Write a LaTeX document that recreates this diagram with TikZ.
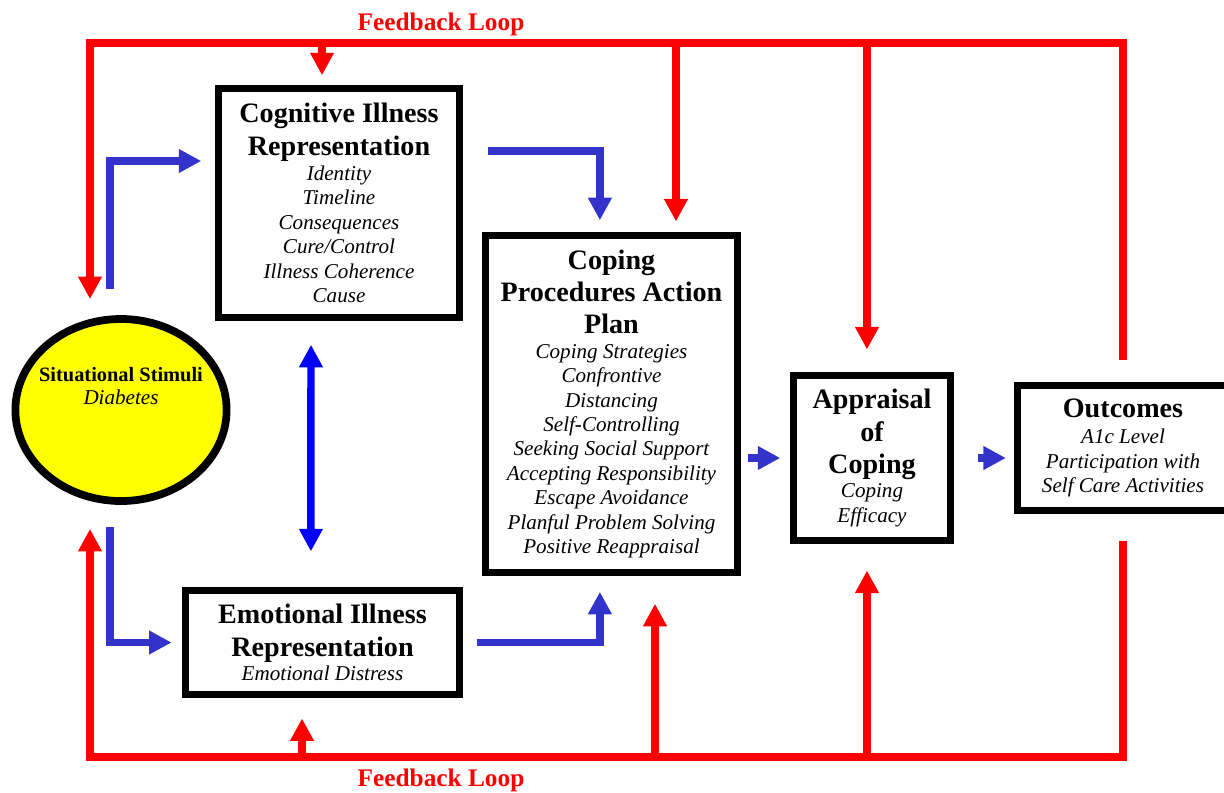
\documentclass[tikz,border=0pt]{standalone}
\usepackage{fontspec}
\setmainfont{Liberation Serif}
\usepackage{xcolor}
\usetikzlibrary{positioning,arrows.meta,shapes.geometric,calc}
\definecolor{fbred}{RGB}{255,0,0}
\definecolor{flowblue}{RGB}{51,51,204}
\definecolor{linkblue}{RGB}{0,0,255}
\definecolor{stimyellow}{RGB}{255,255,0}
\newcommand{\hd}[1]{{\normalfont\fontsize{20}{24}\selectfont\bfseries #1}}

\begin{document}
\lineskiplimit=-20pt\relax
\begin{tikzpicture}[x=0.025cm, y=-0.025cm,
    box/.style={draw, line width=5pt, align=center, inner sep=0pt,
                font=\fontsize{15}{17.4}\selectfont\itshape},
    fb/.style={line width=5pt, fbred, line join=miter, -{Triangle[width=16pt,length=16pt]}},
    flow/.style={line width=5.3pt, flowblue, line join=miter, -{Triangle[width=16pt,length=16pt]}},
  ]
    \useasboundingbox (0,0) rectangle (1224,792);

    % stimulus
    \node[ellipse, draw, line width=5.5pt, fill=stimyellow, minimum width=5.28cm, minimum height=4.55cm] (stim) at (121,410) {};
    \node[align=center, font=\fontsize{15}{17}\selectfont] (stimtxt) at (121,386)
      {{\fontsize{14.5}{17}\selectfont\bfseries Situational Stimuli}\\\textit{Diabetes}};

    % boxes
    \node[box, minimum width=6.03cm, minimum height=5.73cm] (cog) at (339,203)
      {\hd{Cognitive Illness}\\[6pt]\hd{Representation}\\Identity\\Timeline\\Consequences\\Cure/Control\\Illness Coherence\\Cause};
    \node[box, minimum width=6.3cm, minimum height=8.43cm] (cop) at (611.5,404)
      {\hd{Coping}\\[5.5pt]\hd{Procedures Action}\\[5.5pt]\hd{Plan}\\Coping Strategies\\Confrontive\\Distancing\\Self-Controlling\\Seeking Social Support\\Accepting Responsibility\\Escape Avoidance\\Planful Problem Solving\\Positive Reappraisal};
    \node[box, minimum width=6.85cm, minimum height=2.6cm] (emo) at (322.5,642.5)
      {\hd{Emotional Illness}\\[5.5pt]\hd{Representation}\\Emotional Distress};
    \node[box, minimum width=3.93cm, minimum height=4.13cm] (apr) at (872,458)
      {\hd{Appraisal}\\[5.5pt]\hd{of}\\[5.5pt]\hd{Coping}\\Coping\\Efficacy};
    \node[box, minimum width=5.28cm, minimum height=3.13cm] (outc) at (1123,448)
      {\hd{Outcomes}\\[1.5pt]A1c Level\\Participation with\\Self Care Activities};

    % feedback labels
    \node[text=fbred, font=\fontsize{18}{20}\selectfont\bfseries] (fbtop) at (441,24) {Feedback Loop};
    \node[text=fbred, font=\fontsize{18}{20}\selectfont\bfseries] (fbbot) at (441,780) {Feedback Loop};

    % feedback loops
    \coordinate (tl) at (90,43);
    \coordinate (bl) at (90,757);
    \coordinate (t1) at (322,43);
    \coordinate (t2) at (676,43);
    \coordinate (t3) at (867,43);
    \coordinate (b1) at (302,757);
    \coordinate (b2) at (655,757);
    \coordinate (b3) at (867,757);

    \draw[fb, shorten <=0.54cm, shorten >=0.4cm] (outc.north) |- (tl) -- (tl |- stim.north);
    \draw[fb, shorten <=0.66cm, shorten >=0.6cm] (outc.south) |- (bl) -- (bl |- stim.south);
    \draw[fb, shorten >=0.24cm] (t1) -- (t1 |- cog.north);
    \draw[fb, shorten >=0.26cm] (t2) -- (t2 |- cop.north);
    \draw[fb, shorten >=0.56cm] (t3) -- (t3 |- apr.north);
    \draw[fb, shorten >=0.51cm] (b1) -- (b1 |- emo.south);
    \draw[fb, shorten >=0.69cm] (b2) -- (b2 |- cop.south);
    \draw[fb, shorten >=0.66cm] (b3) -- (b3 |- apr.south);

    % forward flow
    \draw[flow] ([xshift=-0.28cm, yshift=0.65cm]stim.north) |- ([xshift=-0.34cm, yshift=1.05cm]cog.west);
    \draw[flow] ([xshift=-0.28cm, yshift=-0.55cm]stim.south) |- ([xshift=-0.26cm]emo.west);
    \draw[flow] ([xshift=0.61cm, yshift=1.3cm]cog.east) -| ([xshift=-0.29cm, yshift=0.29cm]cop.north);
    \draw[flow] ([xshift=0.34cm]emo.east) -| ([xshift=-0.29cm, yshift=-0.39cm]cop.south);
    \draw[flow, linkblue, {Triangle[width=16pt,length=16pt]}-{Triangle[width=16pt,length=16pt]}]
      ([xshift=-0.7cm, yshift=-0.59cm]cog.south) -- ([xshift=-0.29cm, yshift=0.89cm]emo.north);
    \draw[flow, shorten <=0.18cm, shorten >=0.24cm] (cop.east |- apr.west) -- (apr.west);
    \draw[flow, shorten <=0.6cm, shorten >=0.2cm] (apr.east) -- (apr.east -| outc.west);
  \end{tikzpicture}
\end{document}
